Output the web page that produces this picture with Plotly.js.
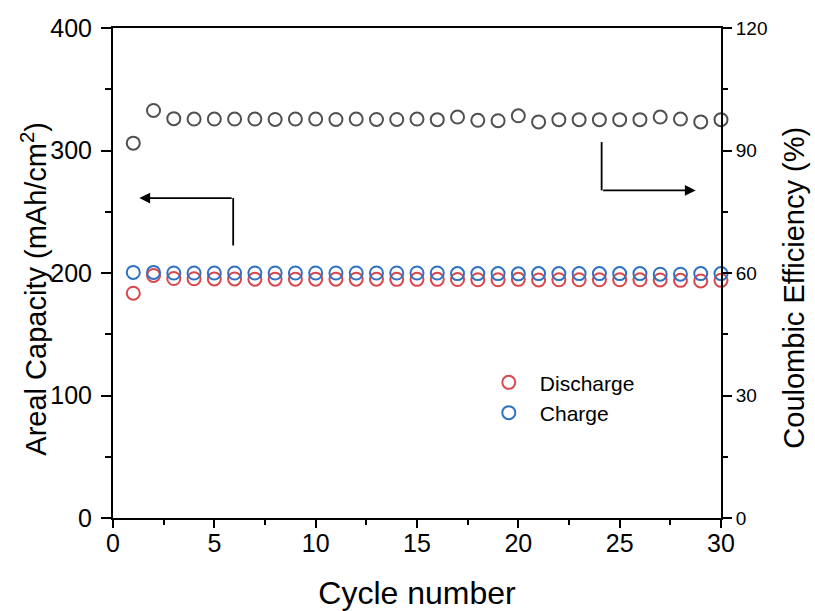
<!DOCTYPE html>
<html>
<head>
<meta charset="utf-8">
<script src="https://cdn.plot.ly/plotly-3.0.1.min.js"></script>
<style>html,body{margin:0;padding:0;background:#fff;}#chart{width:815px;height:611px;}</style>
</head>
<body>
<div id="chart"></div>
<script>
const cycles = Array.from({length: 30}, (_, i) => i + 1);
const discharge = [183.5, 198, 195.5, 195.3, 195.2, 195.2, 195, 195, 195, 195, 195, 195, 195, 194.8, 194.8,
                   194.8, 194.7, 194.5, 194.5, 194.8, 194.3, 194.5, 194.5, 194.5, 194.5, 194.5, 194.3, 194, 193.5, 194];
const charge = [200.5, 200.5, 200, 200, 200, 200, 200, 200, 200, 200, 200, 200, 200, 200, 200,
                200, 199.5, 199.5, 199.5, 199.3, 199.5, 199.5, 199.5, 199.5, 199.5, 199.5, 199, 199, 199.5, 199.5];
const efficiency = [91.8, 99.8, 97.8, 97.7, 97.7, 97.7, 97.7, 97.6, 97.7, 97.7, 97.6, 97.7, 97.6, 97.6, 97.7,
                    97.55, 98.2, 97.4, 97.3, 98.5, 97.0, 97.55, 97.55, 97.55, 97.55, 97.55, 98.2, 97.7, 97.0, 97.55];

const xTitle = 'Cycle number';
const yTitle = 'Areal Capacity (mAh/cm<sup>2</sup>)';
const y2Title = 'Coulombic Efficiency (%)';

const font = "Arial, 'Liberation Sans', sans-serif";

const traces = [
  {x: cycles, y: discharge, name: 'Discharge', mode: 'markers', type: 'scatter', cliponaxis: false,
   marker: {symbol: 'circle-open', size: 13, color: '#d9484c', line: {width: 2, color: '#d9484c'}}},
  {x: cycles, y: charge, name: 'Charge', mode: 'markers', type: 'scatter', cliponaxis: false,
   marker: {symbol: 'circle-open', size: 13, color: '#2f72c4', line: {width: 2, color: '#2f72c4'}}},
  {x: cycles, y: efficiency, name: 'CE', mode: 'markers', type: 'scatter', yaxis: 'y2', showlegend: false, cliponaxis: false,
   marker: {symbol: 'circle-open', size: 13, color: '#505050', line: {width: 2, color: '#505050'}}}
];

const axisCommon = {
  showgrid: false, zeroline: false, showline: true, linecolor: '#000', linewidth: 2,
  ticks: 'outside', tickwidth: 2, ticklen: 10, tickcolor: '#000',
  tickfont: {family: font, size: 25, color: '#000'}
};

const layout = {
  width: 815, height: 611,
  margin: {l: 113, r: 94, t: 28, b: 93},
  paper_bgcolor: '#fff', plot_bgcolor: '#fff',
  font: {family: font, color: '#000'},
  xaxis: Object.assign({}, axisCommon, {
    range: [0, 30], dtick: 5, tick0: 0, mirror: true, ticklen: 8, ticklabelstandoff: -6,
    minor: {dtick: 2.5, ticks: 'outside', ticklen: 5, tickwidth: 2, tickcolor: '#000'},
    title: {text: xTitle, font: {family: font, size: 32, color: '#000'}, standoff: 26}
  }),
  yaxis: Object.assign({}, axisCommon, {
    range: [0, 400], dtick: 100, tick0: 0, ticklabelstandoff: 4,
    minor: {dtick: 50, ticks: 'outside', ticklen: 6, tickwidth: 2, tickcolor: '#000'}
  }),
  yaxis2: Object.assign({}, axisCommon, {
    overlaying: 'y', side: 'right',
    range: [0, 120], dtick: 30, tick0: 0, ticklen: 9,
    tickfont: {family: font, size: 19, color: '#000'},
    minor: {dtick: 15, ticks: 'outside', ticklen: 5, tickwidth: 2, tickcolor: '#000'}
  }),
  legend: {
    x: 0.6, y: 0.318, xanchor: 'left', yanchor: 'top',
    bgcolor: 'rgba(0,0,0,0)', borderwidth: 0,
    font: {family: font, size: 21, color: '#000'},
    itemwidth: 52, tracegroupgap: 0
  },
  shapes: [
    {type: 'line', xref: 'x', yref: 'y', x0: 5.93, x1: 5.93, y0: 222.5, y1: 261.2,
     line: {color: '#000', width: 1.8}},
    {type: 'line', xref: 'x', yref: 'y', x0: 24.11, x1: 24.11, y0: 306.9, y1: 267.4,
     line: {color: '#000', width: 1.8}}
  ],
  annotations: [
    {xref: 'x', yref: 'y', axref: 'x', ayref: 'y', x: 1.3, y: 261.2, ax: 5.93, ay: 261.2,
     text: '', showarrow: true, arrowhead: 2, arrowsize: 1.2, arrowwidth: 1.8, arrowcolor: '#000', standoff: 0},
    {xref: 'x', yref: 'y', axref: 'x', ayref: 'y', x: 28.75, y: 267.4, ax: 24.11, ay: 267.4,
     text: '', showarrow: true, arrowhead: 2, arrowsize: 1.2, arrowwidth: 1.8, arrowcolor: '#000', standoff: 0},
    {xref: 'paper', yref: 'paper', x: -0.13, y: 0.468, xanchor: 'center', yanchor: 'middle',
     text: yTitle, textangle: -90, showarrow: false, font: {family: font, size: 29, color: '#000'}},
    {xref: 'paper', yref: 'paper', x: 1.12, y: 0.47, xanchor: 'center', yanchor: 'middle',
     text: y2Title, textangle: -90, showarrow: false, font: {family: font, size: 29, color: '#000'}}
  ]
};

Plotly.newPlot('chart', traces, layout, {displayModeBar: false, staticPlot: true});
</script>
</body>
</html>
